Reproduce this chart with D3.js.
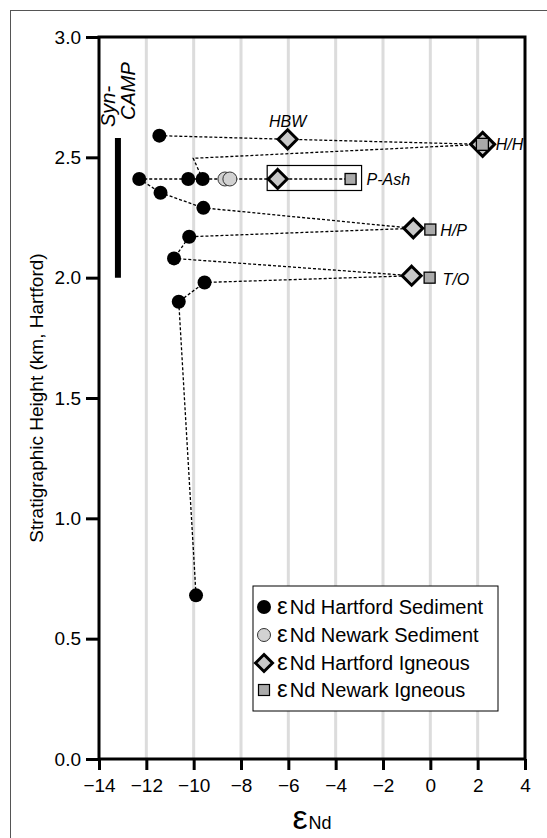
<!DOCTYPE html>
<html><head><meta charset="utf-8">
<script src="https://cdn.jsdelivr.net/npm/d3@7"></script>
<style>body{margin:0;background:#fff}svg{display:block;font-family:"Liberation Sans",Arial,sans-serif}</style>
</head><body><svg id="c" width="547" height="838"></svg>
<script>
const xTicks=[-14,-12,-10,-8,-6,-4,-2,0,2,4];
const yTicks=[0,0.5,1,1.5,2,2.5,3];
const gridX=[-12,-10,-8,-6,-4,-2,0,2];
const hartSedX=[-11.45,-12.3,-10.23,-9.62,-11.4,-9.59,-10.19,-10.83,-9.54,-10.63,-9.9];
const hartSedY=[2.59,2.41,2.41,2.41,2.353,2.29,2.17,2.08,1.98,1.90,0.68];
const newSedX=[-8.68,-8.47];
const newSedY=[2.41,2.41];
const hartIgnName=["HBW","P-Ash","H/H","H/P","T/O"];
const hartIgnX=[-6.03,-6.45,2.21,-0.72,-0.79];
const hartIgnY=[2.575,2.41,2.554,2.205,2.008];
const newIgnName=["P-Ash","H/H","H/P","T/O"];
const newIgnX=[-3.37,2.2,0.0,-0.03];
const newIgnY=[2.41,2.554,2.2,2.0];
const tieLines=[
 [[-11.45,2.59],[-6.03,2.575],[2.21,2.554]],
 [[-9.62,2.41],[-10.02,2.496],[2.21,2.554]],
 [[-12.3,2.41],[-10.23,2.41],[-9.62,2.41],[-8.47,2.41],[-6.45,2.41],[-3.37,2.41]],
 [[-12.3,2.41],[-11.4,2.353],[-9.59,2.29],[-0.72,2.205]],
 [[-0.72,2.205],[-10.19,2.17],[-10.83,2.08],[-0.79,2.008]],
 [[-0.79,2.008],[-9.54,1.98],[-10.63,1.90],[-9.9,0.68]]
];
const synCampX=-13.2, synCampY=[2.0,2.58];
const legendLabels=["Nd Hartford Sediment","Nd Newark Sediment","Nd Hartford Igneous","Nd Newark Igneous"];

const svg=d3.select("#c");
const L=99,R=525,T=37,B=759;
const x=d3.scaleLinear().domain([-14,4]).range([L,R]);
const y=d3.scaleLinear().domain([0,3]).range([B,T]);

svg.append("rect").attr("x",10.5).attr("y",10.5).attr("width",560).attr("height",860)
  .attr("fill","none").attr("stroke","#555").attr("stroke-width",1);

svg.append("g").selectAll("line").data(gridX).join("line")
  .attr("x1",d=>x(d)).attr("x2",d=>x(d)).attr("y1",T).attr("y2",B)
  .attr("stroke","#dcdcdc").attr("stroke-width",3);

const xa=svg.append("g").attr("transform",`translate(0,${B})`)
  .call(d3.axisBottom(x).tickValues(xTicks).tickSize(11).tickPadding(4).tickFormat(d3.format("d")));
const ya=svg.append("g").attr("transform",`translate(${L},0)`)
  .call(d3.axisLeft(y).tickValues(yTicks).tickSize(13).tickPadding(5).tickFormat(d3.format(".1f")));
[xa,ya].forEach(a=>{
  a.select(".domain").remove();
  a.selectAll(".tick line").attr("stroke","#000").attr("stroke-width",3);
  a.selectAll(".tick text").attr("fill","#000").style("font-size","19px").style("font-family","Liberation Sans, Arial, sans-serif");
});
xa.selectAll(".tick text").attr("dy","0.95em");
svg.append("rect").attr("x",L).attr("y",T).attr("width",R-L).attr("height",B-T)
  .attr("fill","none").attr("stroke","#000").attr("stroke-width",3);

svg.append("text").attr("transform",`translate(43,${(T+B)/2}) rotate(-90)`)
  .attr("text-anchor","middle").style("font-size","19px").text("Stratigraphic Height (km, Hartford)");
const xt=svg.append("text").attr("x",(L+R)/2).attr("y",829).attr("text-anchor","middle");
xt.append("tspan").style("font-size","34px").text("ε");
xt.append("tspan").attr("dx",1).style("font-size","18px").text("Nd");

svg.append("line").attr("x1",x(synCampX)).attr("x2",x(synCampX))
  .attr("y1",y(synCampY[0])).attr("y2",y(synCampY[1])).attr("stroke","#000").attr("stroke-width",6);
svg.append("text").attr("transform","translate(115,127) rotate(-90)")
  .style("font-size","20px").style("font-style","italic").text("Syn-");
svg.append("text").attr("transform","translate(135,120) rotate(-90)")
  .style("font-size","20px").style("font-style","italic").text("CAMP");

const line=d3.line().x(d=>x(d[0])).y(d=>y(d[1]));
svg.append("g").selectAll("path").data(tieLines).join("path")
  .attr("d",line).attr("fill","none").attr("stroke","#000").attr("stroke-width",1.3)
  .attr("stroke-dasharray","3,2");

svg.append("rect").attr("x",x(hartIgnX[1])-10.5).attr("y",y(hartIgnY[1])-13.5)
  .attr("width",x(newIgnX[0])-x(hartIgnX[1])+21.5).attr("height",25)
  .attr("fill","none").attr("stroke","#000").attr("stroke-width",1.2);

svg.append("g").selectAll("circle").data(hartSedX).join("circle")
  .attr("cx",d=>x(d)).attr("cy",(d,i)=>y(hartSedY[i])).attr("r",7).attr("fill","#000");
svg.append("g").selectAll("circle").data(newSedX).join("circle")
  .attr("cx",d=>x(d)).attr("cy",(d,i)=>y(newSedY[i])).attr("r",7)
  .attr("fill","#d2d2d2").attr("stroke","#333").attr("stroke-width",1);
const diamond=s=>`M0,${-s}L${s},0L0,${s}L${-s},0Z`;
svg.append("g").selectAll("path").data(hartIgnX).join("path")
  .attr("transform",(d,i)=>`translate(${x(d)},${y(hartIgnY[i])})`)
  .attr("d",(d,i)=>diamond(hartIgnName[i]==="H/H"?12:9.5))
  .attr("fill","#c8c8c8").attr("stroke","#000").attr("stroke-width",3).attr("stroke-linejoin","miter");
svg.append("g").selectAll("rect").data(newIgnX).join("rect")
  .attr("x",(d,i)=>x(d)-(newIgnName[i]==="H/H"?6:5.5)).attr("y",(d,i)=>y(newIgnY[i])-(newIgnName[i]==="H/H"?6:5.5))
  .attr("width",(d,i)=>newIgnName[i]==="H/H"?12:11).attr("height",(d,i)=>newIgnName[i]==="H/H"?12:11)
  .attr("fill","#aaa").attr("stroke","#000").attr("stroke-width",1.3);

const lab=svg.append("g").style("font-size","16px").style("font-style","italic");
lab.append("text").attr("x",x(hartIgnX[0])).attr("y",y(hartIgnY[0])-12).attr("text-anchor","middle").text("HBW");
lab.append("text").attr("x",x(newIgnX[0])+16).attr("y",y(newIgnY[0])+6).text("P-Ash");
lab.append("text").attr("x",x(hartIgnX[2])+13).attr("y",y(hartIgnY[2])+6).text("H/H");
lab.append("text").attr("x",x(newIgnX[2])+10).attr("y",y(newIgnY[2])+6).text("H/P");
lab.append("text").attr("x",x(newIgnX[3])+13).attr("y",y(newIgnY[3])+7).text("T/O");

const lg=svg.append("g");
lg.append("rect").attr("x",253).attr("y",586).attr("width",245).attr("height",125)
  .attr("fill","#fff").attr("stroke","#000").attr("stroke-width",1);
const ly=[607,635,663,690], lmx=264;
lg.append("circle").attr("cx",lmx).attr("cy",ly[0]).attr("r",7).attr("fill","#000");
lg.append("circle").attr("cx",lmx).attr("cy",ly[1]).attr("r",6.5).attr("fill","#d2d2d2").attr("stroke","#333");
lg.append("path").attr("transform",`translate(${lmx},${ly[2]})`).attr("d",diamond(8.5))
  .attr("fill","#c8c8c8").attr("stroke","#000").attr("stroke-width",3);
lg.append("rect").attr("x",lmx-5.5).attr("y",ly[3]-5.5).attr("width",11).attr("height",11)
  .attr("fill","#aaa").attr("stroke","#000").attr("stroke-width",1.2);
legendLabels.forEach((t,i)=>{
  const tx=lg.append("text").attr("x",277).attr("y",ly[i]+7);
  tx.append("tspan").style("font-size","24px").text("ε");
  tx.append("tspan").attr("dx",2).style("font-size","20px").text(t);
});
</script></body></html>
